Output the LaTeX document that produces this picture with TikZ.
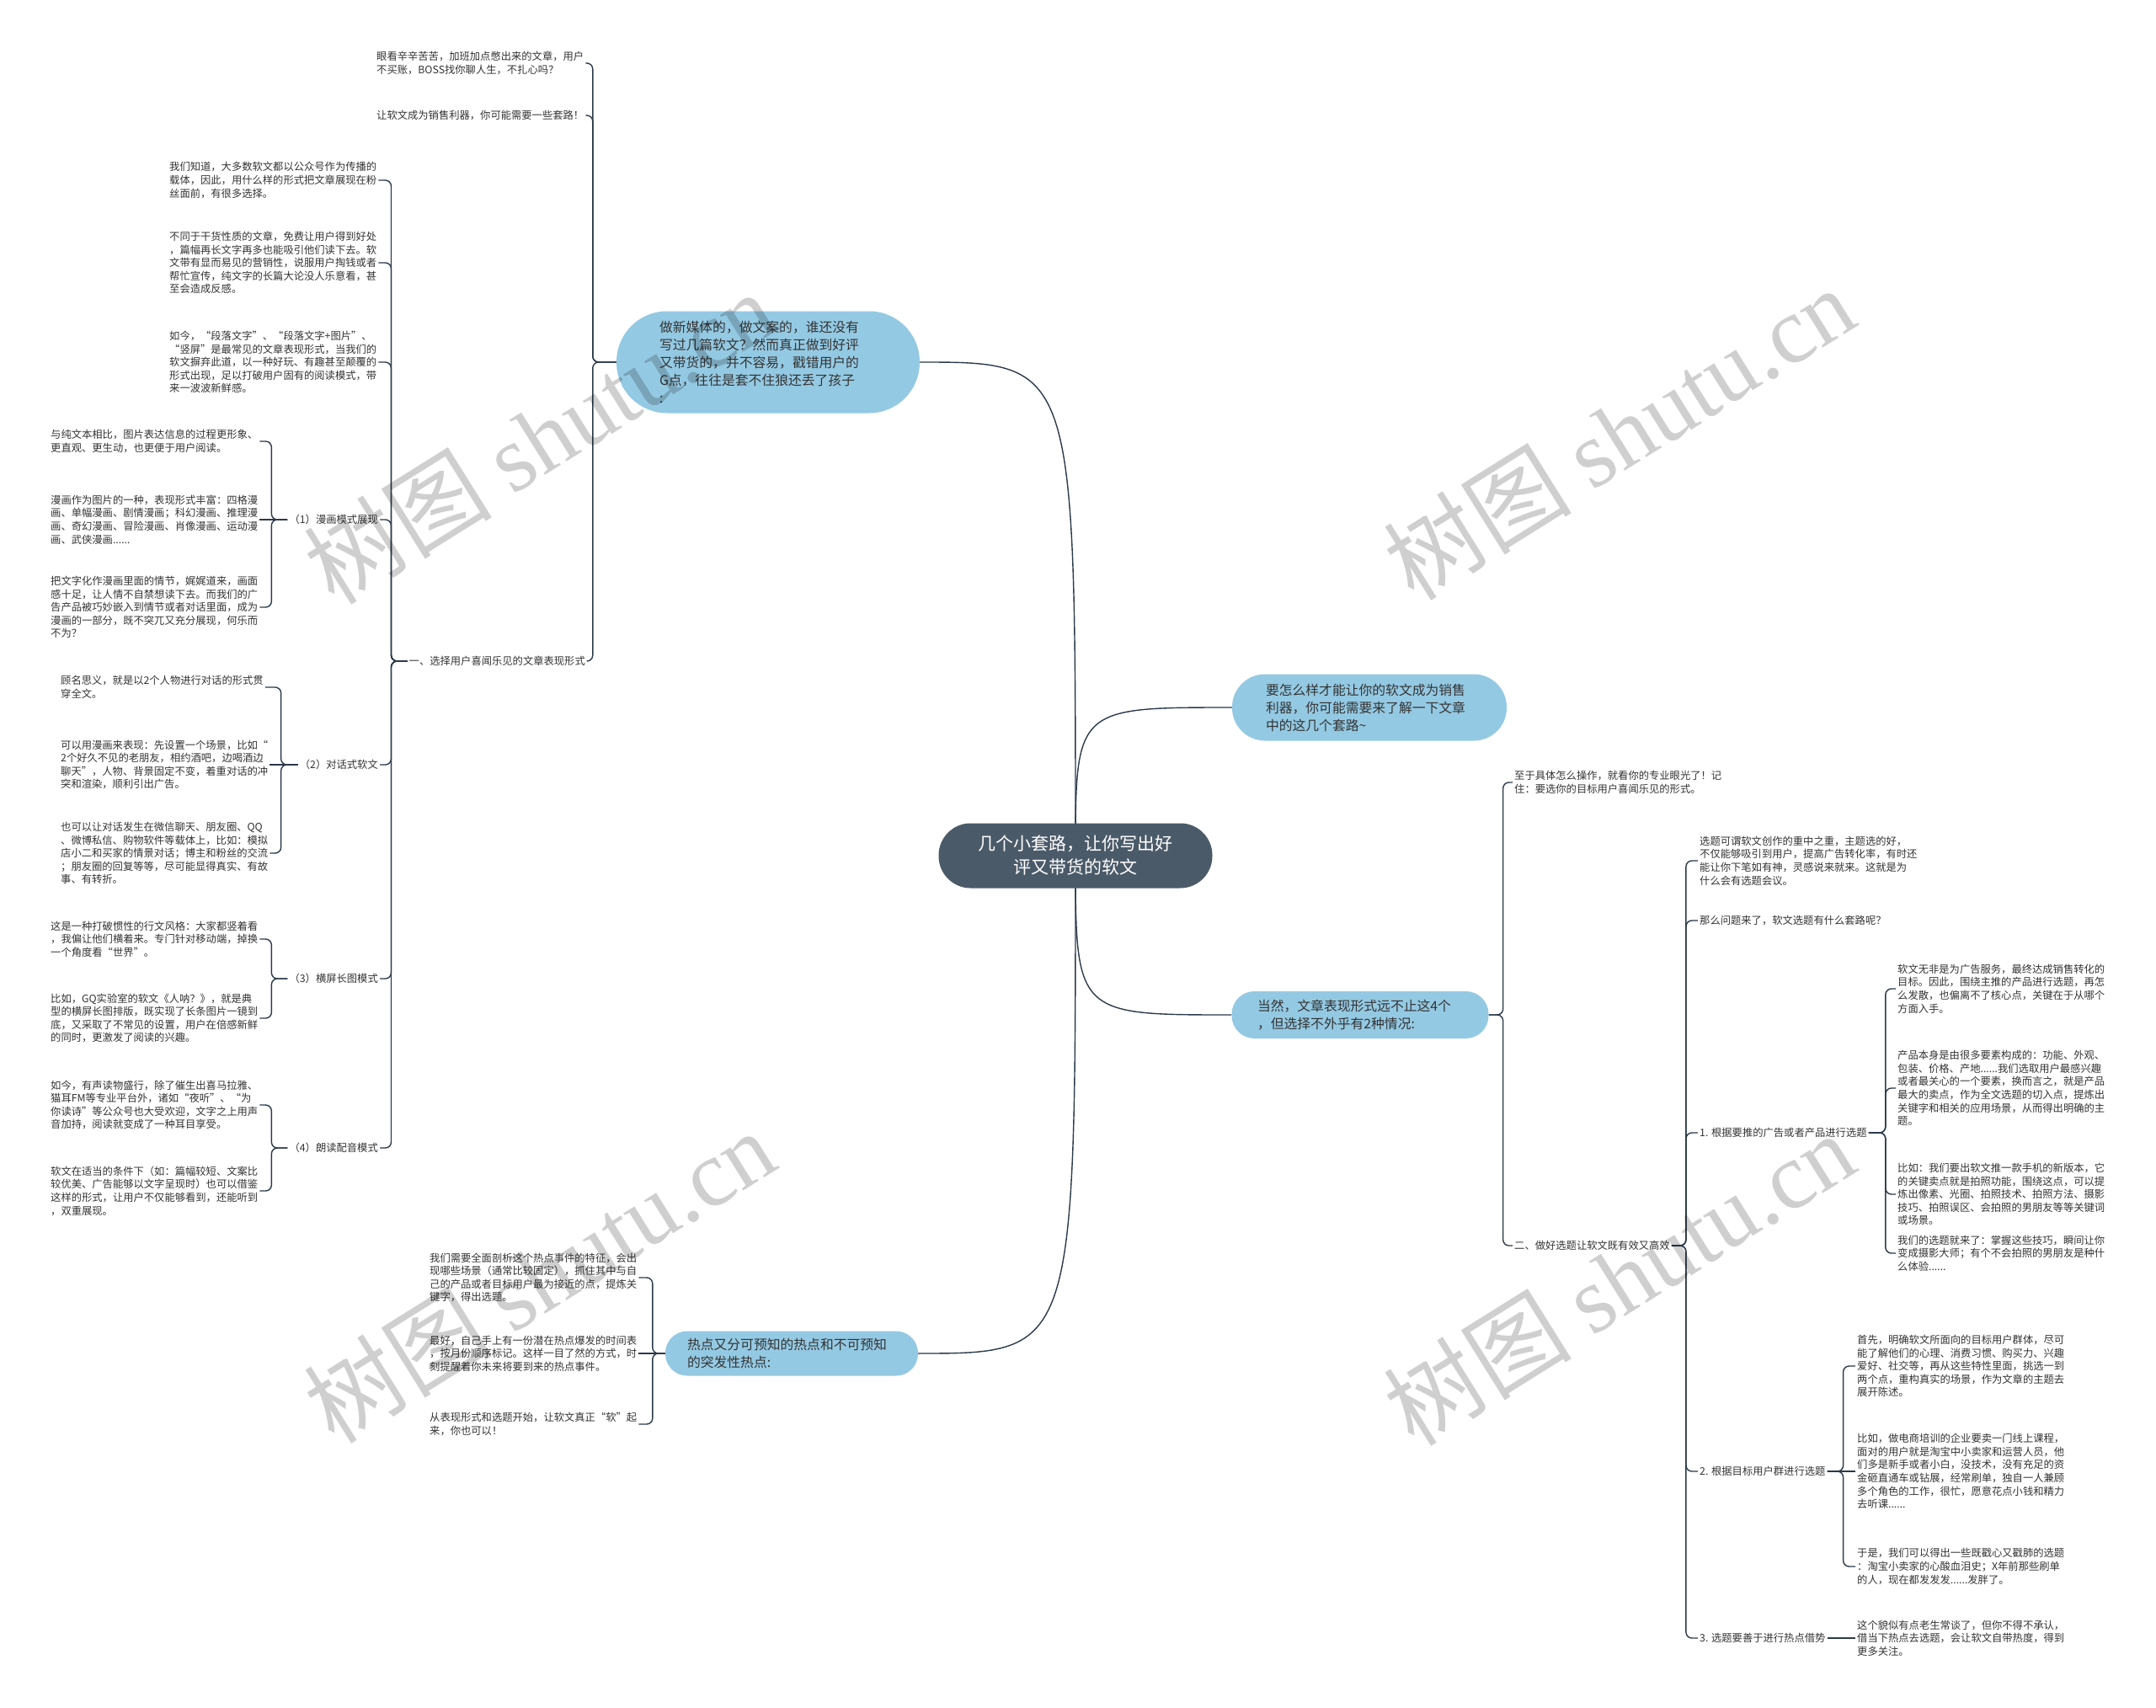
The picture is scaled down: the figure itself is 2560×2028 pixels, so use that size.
\documentclass[tikz,border=0pt]{standalone}
\usepackage{fontspec}
\setmainfont{Noto Sans CJK SC}
\newfontfamily\wmlatin{Liberation Serif}
\usepackage{tikz}
\usetikzlibrary{backgrounds}

\definecolor{rootc}{HTML}{4B5A69}
\definecolor{topicc}{HTML}{94C9E3}
\definecolor{linkc}{HTML}{2B3A4A}
\definecolor{textc}{HTML}{333333}

\begin{document}
\begin{tikzpicture}
  [x=1pt, y=-1pt,
  link/.style={draw=linkc, line width=1.4pt, rounded corners=7pt},
  root/.style={fill=rootc, text=white, align=center, inner sep=0pt,
    font=\fontsize{21}{28}\selectfont},
  topic/.style={fill=topicc, text=textc, align=left, inner sep=0pt,
    text width=246pt, font=\fontsize{15.8}{21}\selectfont},
  leaf/.style={text=textc, align=left, inner sep=2pt, anchor=west,
    font=\fontsize{12.3}{15.6}\selectfont},
  wmark/.style={text=black, text opacity=0.19, rotate=32,
    font=\fontsize{112}{112}\selectfont}]
\useasboundingbox (0,0) rectangle (2560,2028);

\node [root, minimum width=325pt, minimum height=77pt, rounded corners=38pt] (main) at (1277,1016) {几个小套路，让你写出好\\评又带货的软文};

\node [topic, text width=258pt, minimum width=360pt, minimum height=121pt, rounded corners=60pt] (intro) at (912,430) {做新媒体的，做文案的，谁还没有\\写过几篇软文？然而真正做到好评\\又带货的，并不容易，戳错用户的\\G点，往往是套不住狼还丢了孩子\\:};
\node [topic, minimum width=326pt, minimum height=79pt, rounded corners=39pt] (why) at (1626,840) {要怎么样才能让你的软文成为销售\\利器，你可能需要来了解一下文章\\中的这几个套路\textasciitilde};
\node [topic, text width=244pt, minimum width=305pt, minimum height=56pt, rounded corners=27pt] (more) at (1615,1205) {当然，文章表现形式远不止这4个\\，但选择不外乎有2种情况:};
\node [topic, text width=248pt, minimum width=300pt, minimum height=53pt, rounded corners=26pt] (hot) at (940,1607) {热点又分可预知的热点和不可预知\\的突发性热点:};

\node [leaf] (pain) at (445,75) {眼看辛辛苦苦，加班加点憋出来的文章，用户\\不买账，BOSS找你聊人生，不扎心吗？};
\node [leaf] (hint) at (445,137) {让软文成为销售利器，你可能需要一些套路！};
\node [leaf, anchor=east] (form) at (697,785) {一、选择用户喜闻乐见的文章表现形式};

\node [leaf] (form1) at (199,214) {我们知道，大多数软文都以公众号作为传播的\\载体，因此，用什么样的形式把文章展现在粉\\丝面前，有很多选择。};
\node [leaf] (form2) at (199,312) {不同于干货性质的文章，免费让用户得到好处\\，篇幅再长文字再多也能吸引他们读下去。软\\文带有显而易见的营销性，说服用户掏钱或者\\帮忙宣传，纯文字的长篇大论没人乐意看，甚\\至会造成反感。};
\node [leaf] (form3) at (199,430) {如今，“段落文字”、“段落文字+图片”、\\“竖屏”是最常见的文章表现形式，当我们的\\软文摒弃此道，以一种好玩、有趣甚至颠覆的\\形式出现，足以打破用户固有的阅读模式，带\\来一波波新鲜感。};

\node [leaf, anchor=east] (mode1) at (451,617) {（1）漫画模式展现};
\node [leaf, anchor=east] (mode2) at (451,908) {（2）对话式软文};
\node [leaf, anchor=east] (mode3) at (451,1162) {（3）横屏长图模式};
\node [leaf, anchor=east] (mode4) at (451,1363) {（4）朗读配音模式};

\node [leaf] (comic1) at (58,524) {与纯文本相比，图片表达信息的过程更形象、\\更直观、更生动，也更便于用户阅读。};
\node [leaf] (comic2) at (58,617) {漫画作为图片的一种，表现形式丰富：四格漫\\画、单幅漫画、剧情漫画；科幻漫画、推理漫\\画、奇幻漫画、冒险漫画、肖像漫画、运动漫\\画、武侠漫画......};
\node [leaf] (comic3) at (58,721) {把文字化作漫画里面的情节，娓娓道来，画面\\感十足，让人情不自禁想读下去。而我们的广\\告产品被巧妙嵌入到情节或者对话里面，成为\\漫画的一部分，既不突兀又充分展现，何乐而\\不为？};

\node [leaf] (talk1) at (70,816) {顾名思义，就是以2个人物进行对话的形式贯\\穿全文。};
\node [leaf] (talk2) at (70,908) {可以用漫画来表现：先设置一个场景，比如“\\2个好久不见的老朋友，相约酒吧，边喝酒边\\聊天”，人物、背景固定不变，着重对话的冲\\突和渲染，顺利引出广告。};
\node [leaf] (talk3) at (70,1013) {也可以让对话发生在微信聊天、朋友圈、QQ\\、微博私信、购物软件等载体上，比如：模拟\\店小二和买家的情景对话；博主和粉丝的交流\\；朋友圈的回复等等，尽可能显得真实、有故\\事、有转折。};

\node [leaf] (wide1) at (58,1115) {这是一种打破惯性的行文风格：大家都竖着看\\，我偏让他们横着来。专门针对移动端，掉换\\一个角度看“世界”。};
\node [leaf] (wide2) at (58,1209) {比如，GQ实验室的软文《人呐？》，就是典\\型的横屏长图排版，既实现了长条图片一镜到\\底，又采取了不常见的设置，用户在倍感新鲜\\的同时，更激发了阅读的兴趣。};

\node [leaf] (voice1) at (58,1312) {如今，有声读物盛行，除了催生出喜马拉雅、\\猫耳FM等专业平台外，诸如“夜听”、“为\\你读诗”等公众号也大受欢迎，文字之上用声\\音加持，阅读就变成了一种耳目享受。};
\node [leaf] (voice2) at (58,1414) {软文在适当的条件下（如：篇幅较短、文案比\\较优美、广告能够以文字呈现时）也可以借鉴\\这样的形式，让用户不仅能够看到，还能听到\\，双重展现。};

\node [leaf] (hot1) at (508,1517) {我们需要全面剖析这个热点事件的特征，会出\\现哪些场景（通常比较固定），抓住其中与自\\己的产品或者目标用户最为接近的点，提炼关\\键字，得出选题。};
\node [leaf] (hot2) at (508,1607) {最好，自己手上有一份潜在热点爆发的时间表\\，按月份顺序标记。这样一目了然的方式，时\\刻提醒着你未来将要到来的热点事件。};
\node [leaf] (hot3) at (508,1691) {从表现形式和选题开始，让软文真正“软”起\\来，你也可以！};

\node [leaf] (tip) at (1796,929) {至于具体怎么操作，就看你的专业眼光了！记\\住：要选你的目标用户喜闻乐见的形式。};
\node [leaf] (pick) at (1796,1479) {二、做好选题让软文既有效又高效};

\node [leaf] (sel1) at (2016,1022) {选题可谓软文创作的重中之重，主题选的好，\\不仅能够吸引到用户，提高广告转化率，有时还\\能让你下笔如有神，灵感说来就来。这就是为\\什么会有选题会议。};
\node [leaf] (sel2) at (2016,1093) {那么问题来了，软文选题有什么套路呢？};
\node [leaf] (by1) at (2016,1345) {1. 根据要推的广告或者产品进行选题};
\node [leaf] (by2) at (2016,1747) {2. 根据目标用户群进行选题};
\node [leaf] (by3) at (2016,1945) {3. 选题要善于进行热点借势};

\node [leaf] (prod1) at (2251,1174) {软文无非是为广告服务，最终达成销售转化的\\目标。因此，围绕主推的产品进行选题，再怎\\么发散，也偏离不了核心点，关键在于从哪个\\方面入手。};
\node [leaf] (prod2) at (2251,1292) {产品本身是由很多要素构成的：功能、外观、\\包装、价格、产地......我们选取用户最感兴趣\\或者最关心的一个要素，换而言之，就是产品\\最大的卖点，作为全文选题的切入点，提炼出\\关键字和相关的应用场景，从而得出明确的主\\题。};
\node [leaf] (prod3) at (2251,1418) {比如：我们要出软文推一款手机的新版本，它\\的关键卖点就是拍照功能，围绕这点，可以提\\炼出像素、光圈、拍照技术、拍照方法、摄影\\技巧、拍照误区、会拍照的男朋友等等关键词\\或场景。};
\node [leaf] (prod4) at (2251,1488) {我们的选题就来了：掌握这些技巧，瞬间让你\\变成摄影大师；有个不会拍照的男朋友是种什\\么体验......};

\node [leaf] (user1) at (2203,1622) {首先，明确软文所面向的目标用户群体，尽可\\能了解他们的心理、消费习惯、购买力、兴趣\\爱好、社交等，再从这些特性里面，挑选一到\\两个点，重构真实的场景，作为文章的主题去\\展开陈述。};
\node [leaf] (user2) at (2203,1747) {比如，做电商培训的企业要卖一门线上课程，\\面对的用户就是淘宝中小卖家和运营人员，他\\们多是新手或者小白，没技术，没有充足的资\\金砸直通车或钻展，经常刷单，独自一人兼顾\\多个角色的工作，很忙，愿意花点小钱和精力\\去听课......};
\node [leaf] (user3) at (2203,1860) {于是，我们可以得出一些既戳心又戳肺的选题\\：淘宝小卖家的心酸血泪史；X年前那些刷单\\的人，现在都发发发......发胖了。};
\node [leaf] (trend) at (2203,1945) {这个貌似有点老生常谈了，但你不得不承认，\\借当下热点去选题，会让软文自带热度，得到\\更多关注。};

\begin{scope}[on background layer]
\fill [white] (0,0) rectangle (2560,2028);
\draw [link] (main.center) .. controls (main.center |- intro.east) .. (intro.east);
\draw [link] (main.center) .. controls (main.center |- why.west) .. (why.west);
\draw [link] (main.center) .. controls (main.center |- more.west) .. (more.west);
\draw [link] (main.center) .. controls (main.center |- hot.east) .. (hot.east);

\foreach \c in {pain,hint,form} \draw [link] (intro.west) -- ++(-28,0) |- (\c.east);
\foreach \c in {form1,form2,form3,mode1,mode2,mode3,mode4} \draw [link] (form.west) -- ++(-19,0) |- (\c.east);
\foreach \c in {comic1,comic3} \draw [link] (mode1.west) -- ++(-19,0) |- (\c.east);
\draw [link] (mode1.west) -- (comic2.east);
\foreach \c in {talk1,talk3} \draw [link] (mode2.west) -- ++(-20,0) |- (\c.east);
\draw [link] (mode2.west) -- (talk2.east);
\foreach \c in {wide1,wide2} \draw [link] (mode3.west) -- ++(-19,0) |- (\c.east);
\foreach \c in {voice1,voice2} \draw [link] (mode4.west) -- ++(-19,0) |- (\c.east);
\foreach \c in {hot1,hot3} \draw [link] (hot.west) -- ++(-15,0) |- (\c.east);
\draw [link] (hot.west) -- (hot2.east);

\foreach \c in {tip,pick} \draw [link] (more.east) -- ++(17,0) |- (\c.west);
\foreach \c in {sel1,sel2,by1,by2,by3} \draw [link] (pick.east) -- ++(17,0) |- (\c.west);
\foreach \c in {prod1,prod2,prod3,prod4} \draw [link] (by1.east) -- ++(20,0) |- (\c.west);
\foreach \c in {user1,user3} \draw [link] (by2.east) -- ++(19,0) |- (\c.west);
\draw [link] (by2.east) -- (user2.west);
\draw [link] (by3.east) -- (trend.west);
\end{scope}

\node [wmark] (wm1) at (640,519) {树图 {\wmlatin shutu.cn}};
\node [wmark] (wm2) at (1922,514) {树图 {\wmlatin shutu.cn}};
\node [wmark] (wm3) at (640,1515) {树图 {\wmlatin shutu.cn}};
\node [wmark] (wm4) at (1922,1518) {树图 {\wmlatin shutu.cn}};
\end{tikzpicture}
\end{document}
